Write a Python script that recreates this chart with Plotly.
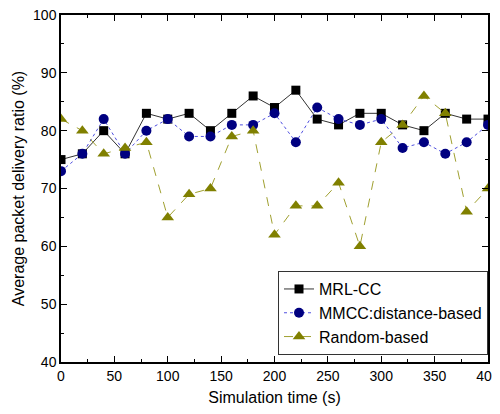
import plotly.graph_objects as go

time_s = list(range(0, 401, 20))
mrl_cc = [75, 76, 80, 76, 83, 82, 83, 80, 83, 86, 84, 87, 82, 81, 83, 83, 81, 80, 83, 82, 82]
mmcc_distance = [73, 76, 82, 76, 80, 82, 79, 79, 81, 81, 83, 78, 84, 82, 81, 82, 77, 78, 76, 78, 81]
random_based = [82, 80, 76, 77, 78, 65, 69, 70, 79, 80, 62, 67, 67, 71, 60, 78, 81, 86, 83, 66, 70]

x_ticks = [0, 50, 100, 150, 200, 250, 300, 350, 400]
y_ticks = [40, 50, 60, 70, 80, 90, 100]

FONT = "Liberation Sans, Arial"

fig = go.Figure()
fig.add_trace(go.Scatter(
    x=time_s, y=mrl_cc, name="MRL-CC", mode="lines+markers",
    line=dict(color="#333333", width=1),
    marker=dict(symbol="square", size=9, color="black")))
fig.add_trace(go.Scatter(
    x=time_s, y=mmcc_distance, name="MMCC:distance-based", mode="lines+markers",
    line=dict(color="#5050e0", width=1, dash="dot"),
    marker=dict(symbol="circle", size=10, color="#000080")))
fig.add_trace(go.Scatter(
    x=time_s, y=random_based, name="Random-based", mode="lines+markers",
    line=dict(color="#a0a030", width=1, dash="dash"),
    marker=dict(symbol="triangle-up", size=11, color="#808000")))

axis_common = dict(
    showline=True, linecolor="black", linewidth=1.5, mirror="allticks",
    ticks="inside", ticklen=6, tickcolor="black", showgrid=False, zeroline=False,
    automargin=False, ticklabeloverflow="allow",
    tickfont=dict(family=FONT, size=14, color="black"),
)
fig.update_xaxes(range=[0, 400], tickvals=x_ticks,
                 title=dict(text="Simulation time (s)", font=dict(family=FONT, size=16, color="black"), standoff=10),
                 minor=dict(ticks="inside", ticklen=3, dtick=25, tickcolor="black"),
                 **axis_common)
fig.update_yaxes(range=[40, 100], tickvals=y_ticks,
                 title=dict(text="Average packet delivery ratio (%)", font=dict(family=FONT, size=16, color="black"), standoff=4),
                 minor=dict(ticks="inside", ticklen=3, dtick=5, tickcolor="black"),
                 **axis_common)

fig.update_layout(
    width=492, height=398,
    margin=dict(l=53, r=12, t=7, b=44),
    paper_bgcolor="white", plot_bgcolor="white",
    showlegend=True,
    legend=dict(x=1.0, y=0.02, xanchor="right", yanchor="bottom",
                bordercolor="#333333", borderwidth=1, bgcolor="white",
                font=dict(family=FONT, size=16, color="black"),
                tracegroupgap=0, itemwidth=30),
)

fig.write_html("out.html")
